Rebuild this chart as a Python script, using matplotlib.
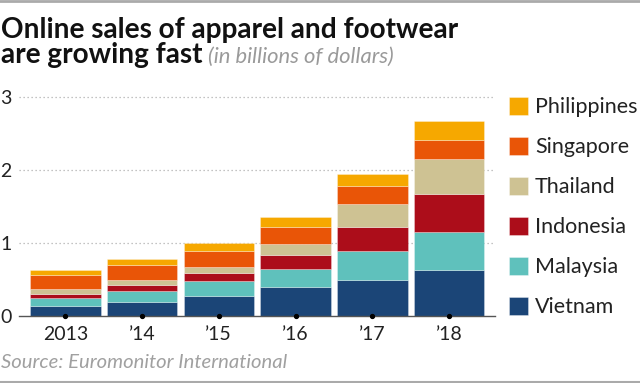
import matplotlib
matplotlib.use("Agg")
import matplotlib.pyplot as plt
from matplotlib.patches import Rectangle
from matplotlib.lines import Line2D

years = ["2013", "\u201914", "\u201915", "\u201916", "\u201917", "\u201918"]
countries = ["Vietnam", "Malaysia", "Indonesia", "Thailand", "Singapore", "Philippines"]
vietnam = [0.137, 0.187, 0.279, 0.393, 0.498, 0.630]
malaysia = [0.105, 0.155, 0.201, 0.256, 0.388, 0.525]
indonesia = [0.055, 0.078, 0.105, 0.183, 0.329, 0.511]
thailand = [0.068, 0.068, 0.082, 0.151, 0.311, 0.479]
singapore = [0.196, 0.210, 0.228, 0.237, 0.247, 0.265]
philippines = [0.064, 0.082, 0.105, 0.132, 0.169, 0.251]
series = [vietnam, malaysia, indonesia, thailand, singapore, philippines]
colors = ["#1b4577", "#5fc1bc", "#ac0d1a", "#cec293", "#e95507", "#f6a800"]

plt.rcParams["font.family"] = ["Lato", "DejaVu Sans"]

fig = plt.figure(figsize=(6.4, 3.83), dpi=100)
ax = fig.add_axes([19/640, 1-316/383, 476/640, (316-96.7)/383])

x = list(range(len(years)))
bottom = [0.0]*len(years)
for vals, c in zip(series, colors):
    ax.bar(x, vals, bottom=bottom, width=0.92, color=c, edgecolor=(1, 1, 1, 0.35), linewidth=0.6, zorder=3)
    bottom = [b+v for b, v in zip(bottom, vals)]

ax.set_xlim(-0.605, 5.60)
ax.set_ylim(0, 3)
ax.set_yticks([0, 1, 2, 3])
ax.set_yticklabels(["0", "1", "2", "3"])
for y in [1, 2, 3]:
    ax.axhline(y, color="#b0b0b0", linestyle=(0, (1, 2.2)), linewidth=0.9, zorder=1, clip_on=False)
for s in ["top", "right", "left"]:
    ax.spines[s].set_visible(False)
ax.spines["bottom"].set_color("#555555")
ax.spines["bottom"].set_linewidth(1.0)
ax.spines["bottom"].set_zorder(4)
ax.tick_params(axis="y", length=0, pad=9, labelsize=14, labelcolor="#222222")
ax.tick_params(axis="x", length=0, pad=7, labelsize=14, labelcolor="#222222")
ax.set_xticks(x)
ax.set_xticklabels(years)
for lbl in ax.get_yticklabels():
    lbl.set_horizontalalignment("left")
    lbl.set_x(-19/476)
ax.tick_params(axis="y", pad=0)
ax.plot(x, [0]*len(x), "o", color="black", markersize=2.8, zorder=5, clip_on=False)

# Legend
handles = [Rectangle((0, 0), 1, 1, facecolor=c, edgecolor=(1, 1, 1, 0.4), linewidth=0.6) for c in colors[::-1]]
leg = fig.legend(handles, countries[::-1], loc="upper left", bbox_to_anchor=(509/640, 1-97/383),
                 frameon=False, fontsize=15.5, handlelength=0.9, handleheight=0.9,
                 handletextpad=0.3, labelspacing=0.91, borderaxespad=0, borderpad=0,
                 labelcolor="#222222")

# Title
fig.text(1/640, 1-38/383, "Online sales of apparel and footwear", fontsize=20.2, fontweight="bold",
         color="#111111", ha="left", va="baseline")
t2 = fig.text(1/640, 1-63/383, "are growing fast", fontsize=20.2, fontweight="bold",
              color="#111111", ha="left", va="baseline")
fig.canvas.draw()
bb = t2.get_window_extent()
fig.text(bb.x1/640 + 6/640, 1-63/383, "(in billions of dollars)", fontsize=15.8, style="italic",
         color="#9a9a9a", ha="left", va="baseline")

fig.text(1/640, 1-368/383, "Source: Euromonitor International", fontsize=14.6, style="italic",
         color="#a0a0a0", ha="left", va="baseline")

fig.add_artist(Line2D([0, 1], [1-1/383, 1-1/383], color="#aaaaaa", linewidth=2, transform=fig.transFigure))
fig.add_artist(Line2D([0, 1], [1-381.5/383, 1-381.5/383], color="#aaaaaa", linewidth=1.5, transform=fig.transFigure))

fig.savefig("out.png", dpi=100)
